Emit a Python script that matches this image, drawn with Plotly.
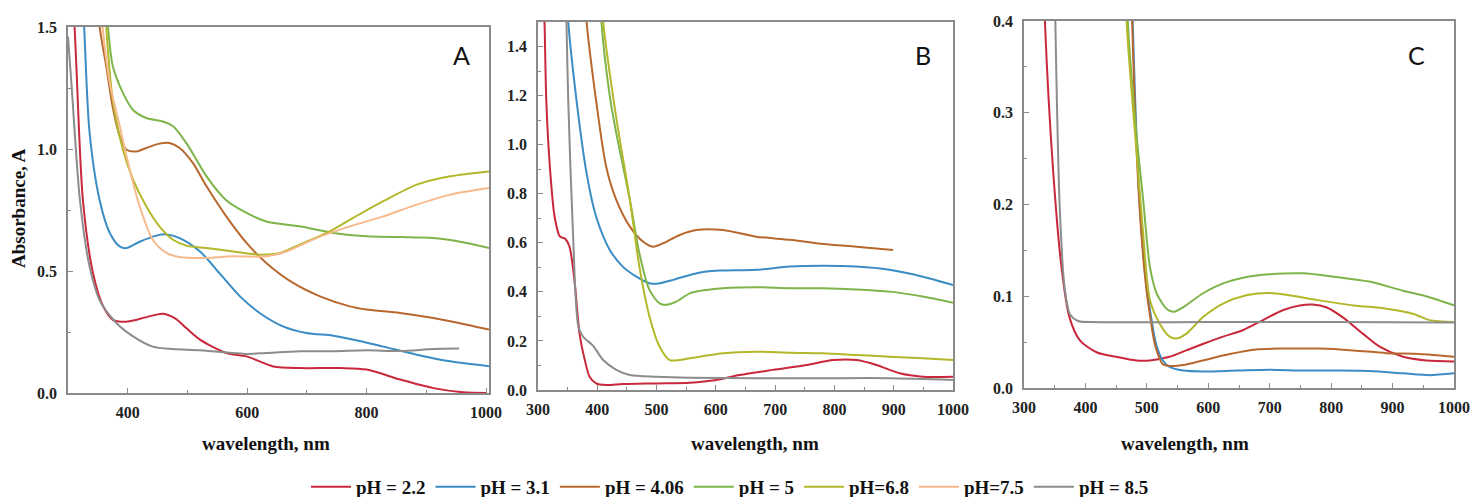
import plotly.graph_objects as go

W, H = 1476, 497

# ---------------- data (wavelength nm, absorbance) ----------------
labels = ["pH = 2.2", "pH = 3.1", "pH = 4.06", "pH = 5", "pH=6.8", "pH=7.5", "pH = 8.5"]
colors = ["#c9283a", "#3a8cc4", "#b8682f", "#7db54a", "#b3b82a", "#f6b98c", "#8c8c8c"]

# Panel A
a_red_x = [305, 311, 314, 325, 342, 359, 375, 390, 403, 430, 459, 480, 498, 521, 565, 599, 644, 688, 755, 800, 856, 912, 962, 1000]
a_red_y = [1.7, 1.5, 1.34, 0.79, 0.49, 0.355, 0.30, 0.292, 0.294, 0.31, 0.325, 0.305, 0.266, 0.219, 0.164, 0.150, 0.109, 0.102, 0.102, 0.096, 0.055, 0.02, 0.003, 0.0]
a_blue_x = [322, 327, 336, 353, 370, 387, 398, 420, 448, 465, 487, 521, 554, 588, 621, 660, 699, 744, 777, 828, 884, 940, 1005]
a_blue_y = [1.7, 1.5, 1.07, 0.79, 0.656, 0.6, 0.594, 0.62, 0.645, 0.65, 0.635, 0.58, 0.49, 0.396, 0.328, 0.273, 0.246, 0.235, 0.219, 0.19, 0.157, 0.13, 0.11]
a_brown_x = [348, 353, 364, 375, 387, 398, 415, 431, 453, 470, 487, 509, 532, 565, 599, 632, 677, 722, 772, 800, 856, 912, 968, 1005]
a_brown_y = [1.7, 1.5, 1.34, 1.17, 1.05, 0.997, 0.99, 1.004, 1.022, 1.025, 1.004, 0.943, 0.847, 0.724, 0.615, 0.533, 0.451, 0.396, 0.355, 0.342, 0.328, 0.307, 0.28, 0.26]
a_green_x = [362, 367, 375, 392, 409, 431, 459, 476, 498, 532, 565, 599, 632, 688, 744, 800, 856, 912, 968, 1005]
a_green_y = [1.7, 1.5, 1.34, 1.23, 1.16, 1.127, 1.113, 1.093, 1.025, 0.888, 0.79, 0.738, 0.703, 0.683, 0.656, 0.642, 0.639, 0.635, 0.615, 0.594]
a_olive_x = [360, 364, 375, 392, 409, 431, 453, 476, 498, 532, 577, 621, 655, 688, 733, 777, 828, 884, 940, 1005]
a_olive_y = [1.7, 1.5, 1.2, 0.997, 0.874, 0.765, 0.683, 0.628, 0.604, 0.594, 0.58, 0.567, 0.574, 0.608, 0.656, 0.717, 0.786, 0.854, 0.888, 0.908]
a_peach_x = [354, 358, 370, 387, 398, 420, 442, 465, 487, 521, 577, 632, 666, 716, 772, 828, 884, 940, 1005]
a_peach_y = [1.7, 1.5, 1.27, 1.09, 0.97, 0.765, 0.628, 0.574, 0.557, 0.553, 0.56, 0.56, 0.58, 0.635, 0.683, 0.724, 0.772, 0.813, 0.84]
a_gray_x = [300, 306, 320, 336, 353, 381, 409, 442, 476, 521, 577, 599, 632, 688, 744, 800, 856, 912, 955]
a_gray_y = [1.46, 1.26, 0.79, 0.52, 0.38, 0.287, 0.232, 0.19, 0.18, 0.175, 0.164, 0.16, 0.164, 0.171, 0.171, 0.175, 0.172, 0.18, 0.182]

# Panel B
b_red_x = [308, 311, 314, 320, 328, 337, 345, 353, 362, 370, 379, 387, 398, 415, 443, 500, 556, 601, 640, 696, 753, 798, 837, 871, 910, 949, 1000]
b_red_y = [1.7, 1.5, 1.18, 0.91, 0.707, 0.625, 0.618, 0.585, 0.435, 0.231, 0.122, 0.054, 0.027, 0.02, 0.024, 0.027, 0.03, 0.041, 0.061, 0.082, 0.102, 0.122, 0.122, 0.102, 0.068, 0.054, 0.054]
b_blue_x = [347, 351, 365, 382, 398, 421, 443, 466, 488, 500, 528, 556, 584, 612, 668, 725, 781, 837, 893, 949, 1000]
b_blue_y = [1.7, 1.5, 1.18, 0.883, 0.707, 0.571, 0.503, 0.462, 0.435, 0.433, 0.449, 0.469, 0.483, 0.487, 0.49, 0.503, 0.506, 0.503, 0.49, 0.462, 0.428]
b_brown_x = [377, 382, 398, 415, 432, 455, 477, 494, 511, 539, 567, 612, 668, 725, 781, 837, 899]
b_brown_y = [1.7, 1.5, 1.18, 0.91, 0.775, 0.666, 0.605, 0.584, 0.598, 0.632, 0.652, 0.652, 0.625, 0.612, 0.595, 0.584, 0.571]
b_green_x = [404, 407, 421, 432, 455, 471, 488, 505, 516, 533, 556, 584, 612, 668, 725, 781, 837, 893, 949, 1000]
b_green_y = [1.7, 1.5, 1.2, 1.047, 0.775, 0.557, 0.408, 0.353, 0.347, 0.36, 0.394, 0.408, 0.415, 0.419, 0.415, 0.415, 0.41, 0.401, 0.381, 0.356]
b_olive_x = [406, 410, 432, 455, 471, 488, 505, 522, 539, 556, 612, 668, 725, 781, 837, 893, 949, 1000]
b_olive_y = [1.7, 1.5, 1.11, 0.775, 0.503, 0.3, 0.177, 0.122, 0.122, 0.129, 0.15, 0.156, 0.152, 0.15, 0.143, 0.136, 0.129, 0.122]
b_gray_x = [346, 348, 351, 359, 368, 376, 393, 410, 432, 455, 500, 556, 668, 781, 893, 1000]
b_gray_y = [1.7, 1.5, 1.18, 0.64, 0.26, 0.217, 0.18, 0.122, 0.082, 0.061, 0.054, 0.05, 0.048, 0.048, 0.048, 0.041]

# Panel C
c_red_x = [330, 334, 347, 361, 374, 391, 418, 450, 483, 505, 537, 564, 591, 624, 656, 689, 722, 749, 770, 792, 819, 852, 879, 917, 955, 1000]
c_red_y = [0.5, 0.4, 0.241, 0.132, 0.077, 0.052, 0.039, 0.034, 0.030, 0.030, 0.034, 0.041, 0.048, 0.056, 0.063, 0.074, 0.085, 0.09, 0.091, 0.088, 0.077, 0.059, 0.045, 0.034, 0.03, 0.029]
c_blue_x = [474, 477, 488, 499, 507, 515, 526, 537, 559, 591, 646, 700, 754, 808, 862, 917, 960, 1000]
c_blue_y = [0.5, 0.4, 0.205, 0.114, 0.077, 0.048, 0.03, 0.023, 0.019, 0.018, 0.019, 0.02, 0.019, 0.019, 0.0185, 0.016, 0.014, 0.016]
c_brown_x = [473, 476, 487, 498, 506, 514, 526, 540, 559, 591, 635, 678, 727, 781, 836, 890, 944, 1000]
c_brown_y = [0.5, 0.4, 0.21, 0.115, 0.075, 0.045, 0.026, 0.024, 0.025, 0.03, 0.037, 0.042, 0.043, 0.043, 0.041, 0.038, 0.037, 0.034]
c_green_x = [466, 469, 483, 494, 505, 516, 532, 543, 559, 591, 624, 662, 700, 754, 808, 862, 917, 960, 1000]
c_green_y = [0.5, 0.4, 0.277, 0.205, 0.132, 0.103, 0.0865, 0.083, 0.088, 0.103, 0.114, 0.121, 0.124, 0.125, 0.121, 0.116, 0.106, 0.099, 0.09]
c_olive_x = [464, 467, 483, 494, 505, 521, 537, 548, 564, 591, 624, 662, 700, 732, 781, 836, 890, 933, 960, 1000]
c_olive_y = [0.5, 0.4, 0.259, 0.168, 0.096, 0.07, 0.056, 0.054, 0.059, 0.077, 0.092, 0.101, 0.1035, 0.101, 0.0955, 0.09, 0.0865, 0.081, 0.074, 0.072]
c_gray_x = [349, 351, 358, 366, 375, 388, 410, 600, 800, 1000]
c_gray_y = [0.5, 0.4, 0.2, 0.11, 0.08, 0.073, 0.0718, 0.072, 0.0718, 0.0715]

panel_letters = ["A", "B", "C"]
x_title = "wavelength, nm"
y_title = "Absorbance, A"

# ---------------- figure ----------------
fig = go.Figure()

panels = [
    ("x", "y", [(0, a_red_x, a_red_y), (1, a_blue_x, a_blue_y), (2, a_brown_x, a_brown_y),
                (3, a_green_x, a_green_y), (4, a_olive_x, a_olive_y), (5, a_peach_x, a_peach_y),
                (6, a_gray_x, a_gray_y)]),
    ("x2", "y2", [(0, b_red_x, b_red_y), (1, b_blue_x, b_blue_y), (2, b_brown_x, b_brown_y),
                  (3, b_green_x, b_green_y), (4, b_olive_x, b_olive_y), (6, b_gray_x, b_gray_y)]),
    ("x3", "y3", [(0, c_red_x, c_red_y), (1, c_blue_x, c_blue_y), (2, c_brown_x, c_brown_y),
                  (3, c_green_x, c_green_y), (4, c_olive_x, c_olive_y), (6, c_gray_x, c_gray_y)]),
]

for pi, (xa, ya, series) in enumerate(panels):
    for idx, xs, ys in series:
        fig.add_trace(go.Scatter(
            x=xs, y=ys, mode="lines", name=labels[idx],
            line=dict(color=colors[idx], width=2, shape="spline", smoothing=0.8),
            xaxis=xa, yaxis=ya, showlegend=(pi == 0), legendrank=idx + 1,
        ))


def px(x):
    return x / W


def py(y):
    return 1 - y / H


SERIF = "Liberation Serif, Times New Roman, serif"
tickfont = dict(family=SERIF, size=16, color="#222222", weight="bold")
axis_common = dict(
    showline=True, linecolor="#8a8a8a", linewidth=1.5, mirror=True,
    ticks="inside", ticklen=5, tickcolor="#8a8a8a", tickwidth=1.2,
    showgrid=False, zeroline=False, tickfont=tickfont, automargin=False,
)
minor_common = dict(ticks="inside", ticklen=3, tickcolor="#8a8a8a", tickwidth=1.2, showgrid=False)

doms = [
    ((68, 489), (27, 393), [300, 1005], [400, 600, 800, 1000], 100, [0, 1.5], 0.5, 0.25),
    ((538, 953), (22, 390), [300, 1000], list(range(300, 1001, 100)), 50, [0, 1.5], 0.2, 0.1),
    ((1024, 1454), (21, 388), [300, 1000], list(range(300, 1001, 100)), 50, [0, 0.4], 0.1, 0.05),
]

layout_axes = {}
for i, ((x0, x1), (y0, y1), xr, xt, xminor, yr, ydt, yminor) in enumerate(doms):
    sfx = "" if i == 0 else str(i + 1)
    layout_axes["xaxis" + sfx] = dict(
        axis_common, domain=[px(x0), px(x1)], range=xr, tickmode="array", tickvals=xt,
        anchor="y" + sfx, ticklabelstandoff=4,
        minor=dict(minor_common, dtick=xminor, tick0=300),
    )
    layout_axes["yaxis" + sfx] = dict(
        axis_common, domain=[py(y1), py(y0)], range=yr, dtick=ydt, tick0=0, tickformat=".1f",
        anchor="x" + sfx, ticklabelstandoff=6,
        minor=dict(minor_common, dtick=yminor, tick0=0),
    )

fig.update_layout(**layout_axes)

annotations = []
for letter, (lx, ly) in zip(panel_letters, [(461, 55), (923, 55), (1416, 55)]):
    annotations.append(dict(text=letter, x=px(lx), y=py(ly), xref="paper", yref="paper",
                            showarrow=False, xanchor="center", yanchor="middle",
                            font=dict(family="Lato", size=25, color="#111111")))
for tx in [266, 755, 1185]:
    annotations.append(dict(text="<b>" + x_title + "</b>", x=px(tx), y=py(443), xref="paper", yref="paper",
                            showarrow=False, xanchor="center", yanchor="middle",
                            font=dict(family=SERIF, size=19, color="#111111")))
annotations.append(dict(text="<b>" + y_title + "</b>", x=px(18), y=py(208), xref="paper", yref="paper",
                        showarrow=False, xanchor="center", yanchor="middle", textangle=-90,
                        font=dict(family=SERIF, size=19, color="#111111")))

fig.update_layout(
    width=W, height=H,
    font=dict(family=SERIF),
    margin=dict(l=0, r=0, t=0, b=0, pad=0, autoexpand=False),
    paper_bgcolor="white", plot_bgcolor="white",
    annotations=annotations,
    legend=dict(orientation="h", x=px(730), y=py(487), xanchor="center", yanchor="middle",
                font=dict(family=SERIF, size=19, color="#111111", weight="bold"),
                itemwidth=40, traceorder="normal", bgcolor="rgba(0,0,0,0)"),
)

# remove the browser's default 8px page margin so the figure fills the window exactly
fig.write_html("out.html", config={"displayModeBar": False},
               post_script="document.body.style.margin='0';document.body.style.overflow='hidden';")
